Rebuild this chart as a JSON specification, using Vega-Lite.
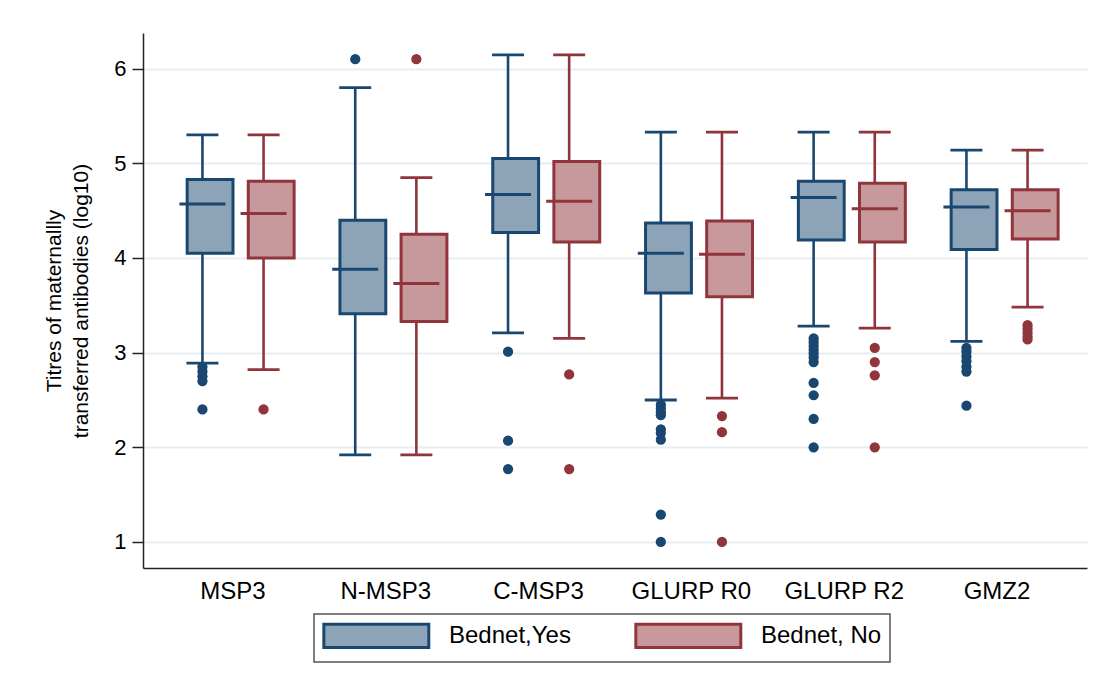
{
  "$schema": "https://vega.github.io/schema/vega-lite/v6.json",
  "width": 944,
  "height": 535,
  "autosize": {"type": "none"},
  "padding": {"left": 143, "top": 33, "right": 23, "bottom": 118},
  "background": "#ffffff",
  "datasets": {
    "stats": [
      {"antigen": "MSP3", "group": "Bednet,Yes", "lower": 2.89, "q1": 4.05, "median": 4.57, "q3": 4.83, "upper": 5.30},
      {"antigen": "MSP3", "group": "Bednet, No", "lower": 2.82, "q1": 4.00, "median": 4.47, "q3": 4.81, "upper": 5.30},
      {"antigen": "N-MSP3", "group": "Bednet,Yes", "lower": 1.92, "q1": 3.41, "median": 3.88, "q3": 4.40, "upper": 5.80},
      {"antigen": "N-MSP3", "group": "Bednet, No", "lower": 1.92, "q1": 3.33, "median": 3.73, "q3": 4.25, "upper": 4.85},
      {"antigen": "C-MSP3", "group": "Bednet,Yes", "lower": 3.21, "q1": 4.27, "median": 4.67, "q3": 5.05, "upper": 6.145},
      {"antigen": "C-MSP3", "group": "Bednet, No", "lower": 3.15, "q1": 4.17, "median": 4.60, "q3": 5.02, "upper": 6.145},
      {"antigen": "GLURP R0", "group": "Bednet,Yes", "lower": 2.50, "q1": 3.63, "median": 4.05, "q3": 4.37, "upper": 5.33},
      {"antigen": "GLURP R0", "group": "Bednet, No", "lower": 2.52, "q1": 3.59, "median": 4.04, "q3": 4.39, "upper": 5.33},
      {"antigen": "GLURP R2", "group": "Bednet,Yes", "lower": 3.28, "q1": 4.19, "median": 4.64, "q3": 4.81, "upper": 5.33},
      {"antigen": "GLURP R2", "group": "Bednet, No", "lower": 3.26, "q1": 4.17, "median": 4.52, "q3": 4.79, "upper": 5.33},
      {"antigen": "GMZ2", "group": "Bednet,Yes", "lower": 3.12, "q1": 4.09, "median": 4.54, "q3": 4.72, "upper": 5.14},
      {"antigen": "GMZ2", "group": "Bednet, No", "lower": 3.48, "q1": 4.20, "median": 4.50, "q3": 4.72, "upper": 5.14}
    ],
    "outliers": [
      {"antigen": "MSP3", "group": "Bednet,Yes", "value": 2.85},
      {"antigen": "MSP3", "group": "Bednet,Yes", "value": 2.80},
      {"antigen": "MSP3", "group": "Bednet,Yes", "value": 2.75},
      {"antigen": "MSP3", "group": "Bednet,Yes", "value": 2.70},
      {"antigen": "MSP3", "group": "Bednet,Yes", "value": 2.40},
      {"antigen": "MSP3", "group": "Bednet, No", "value": 2.40},
      {"antigen": "N-MSP3", "group": "Bednet,Yes", "value": 6.10},
      {"antigen": "N-MSP3", "group": "Bednet, No", "value": 6.10},
      {"antigen": "C-MSP3", "group": "Bednet,Yes", "value": 3.01},
      {"antigen": "C-MSP3", "group": "Bednet,Yes", "value": 2.07},
      {"antigen": "C-MSP3", "group": "Bednet,Yes", "value": 1.77},
      {"antigen": "C-MSP3", "group": "Bednet, No", "value": 2.77},
      {"antigen": "C-MSP3", "group": "Bednet, No", "value": 1.77},
      {"antigen": "GLURP R0", "group": "Bednet,Yes", "value": 2.45},
      {"antigen": "GLURP R0", "group": "Bednet,Yes", "value": 2.41},
      {"antigen": "GLURP R0", "group": "Bednet,Yes", "value": 2.37},
      {"antigen": "GLURP R0", "group": "Bednet,Yes", "value": 2.34},
      {"antigen": "GLURP R0", "group": "Bednet,Yes", "value": 2.19},
      {"antigen": "GLURP R0", "group": "Bednet,Yes", "value": 2.15},
      {"antigen": "GLURP R0", "group": "Bednet,Yes", "value": 2.08},
      {"antigen": "GLURP R0", "group": "Bednet,Yes", "value": 1.29},
      {"antigen": "GLURP R0", "group": "Bednet,Yes", "value": 1.00},
      {"antigen": "GLURP R0", "group": "Bednet, No", "value": 2.33},
      {"antigen": "GLURP R0", "group": "Bednet, No", "value": 2.16},
      {"antigen": "GLURP R0", "group": "Bednet, No", "value": 1.00},
      {"antigen": "GLURP R2", "group": "Bednet,Yes", "value": 3.15},
      {"antigen": "GLURP R2", "group": "Bednet,Yes", "value": 3.11},
      {"antigen": "GLURP R2", "group": "Bednet,Yes", "value": 3.07},
      {"antigen": "GLURP R2", "group": "Bednet,Yes", "value": 3.03},
      {"antigen": "GLURP R2", "group": "Bednet,Yes", "value": 2.99},
      {"antigen": "GLURP R2", "group": "Bednet,Yes", "value": 2.95},
      {"antigen": "GLURP R2", "group": "Bednet,Yes", "value": 2.90},
      {"antigen": "GLURP R2", "group": "Bednet,Yes", "value": 2.68},
      {"antigen": "GLURP R2", "group": "Bednet,Yes", "value": 2.55},
      {"antigen": "GLURP R2", "group": "Bednet,Yes", "value": 2.30},
      {"antigen": "GLURP R2", "group": "Bednet,Yes", "value": 2.00},
      {"antigen": "GLURP R2", "group": "Bednet, No", "value": 3.05},
      {"antigen": "GLURP R2", "group": "Bednet, No", "value": 2.90},
      {"antigen": "GLURP R2", "group": "Bednet, No", "value": 2.76},
      {"antigen": "GLURP R2", "group": "Bednet, No", "value": 2.00},
      {"antigen": "GMZ2", "group": "Bednet,Yes", "value": 3.05},
      {"antigen": "GMZ2", "group": "Bednet,Yes", "value": 3.01},
      {"antigen": "GMZ2", "group": "Bednet,Yes", "value": 2.96},
      {"antigen": "GMZ2", "group": "Bednet,Yes", "value": 2.91},
      {"antigen": "GMZ2", "group": "Bednet,Yes", "value": 2.85},
      {"antigen": "GMZ2", "group": "Bednet,Yes", "value": 2.80},
      {"antigen": "GMZ2", "group": "Bednet,Yes", "value": 2.44},
      {"antigen": "GMZ2", "group": "Bednet, No", "value": 3.29},
      {"antigen": "GMZ2", "group": "Bednet, No", "value": 3.25},
      {"antigen": "GMZ2", "group": "Bednet, No", "value": 3.21},
      {"antigen": "GMZ2", "group": "Bednet, No", "value": 3.17},
      {"antigen": "GMZ2", "group": "Bednet, No", "value": 3.14}
    ]
  },
  "encoding": {
    "x": {
      "field": "antigen",
      "type": "nominal",
      "sort": ["MSP3", "N-MSP3", "C-MSP3", "GLURP R0", "GLURP R2", "GMZ2"],
      "scale": {"paddingInner": 0.2, "paddingOuter": 0.189},
      "axis": {
        "title": null,
        "labelAngle": 0,
        "labelFontSize": 24,
        "labelPadding": 11,
        "ticks": false,
        "grid": false,
        "domainColor": "#222222",
        "domainWidth": 1.5
      }
    },
    "xOffset": {
      "field": "group",
      "type": "nominal",
      "sort": ["Bednet,Yes", "Bednet, No"],
      "scale": {"paddingInner": 0, "paddingOuter": 0}
    }
  },
  "layer": [
    {
      "data": {"name": "stats"},
      "mark": {"type": "rule", "strokeWidth": 2.6},
      "encoding": {
        "y": {
          "field": "lower",
          "type": "quantitative",
          "scale": {"domain": [0.725, 6.377], "nice": false, "zero": false},
          "axis": {
            "values": [1, 2, 3, 4, 5, 6],
            "format": "d",
            "title": ["Titres of maternallly", "transferred antibodies (log10)"],
            "titleFontSize": 21,
            "titleFontWeight": "normal",
            "titleLineHeight": 27,
            "titlePadding": 22,
            "labelFontSize": 22,
            "labelPadding": 6,
            "tickSize": 11,
            "tickWidth": 1.5,
            "tickColor": "#222222",
            "domainColor": "#222222",
            "domainWidth": 1.5,
            "grid": true,
            "gridColor": "#e6eef1",
            "gridWidth": 2
          }
        },
        "y2": {"field": "upper"},
        "stroke": {"condition": {"test": "datum.group === 'Bednet,Yes'", "value": "#1a476f"}, "value": "#90353b"}
      }
    },
    {
      "data": {"name": "stats"},
      "mark": {"type": "bar", "width": {"band": 0.75}, "strokeWidth": 3, "opacity": 1},
      "encoding": {
        "y": {"field": "q1", "type": "quantitative"},
        "y2": {"field": "q3"},
        "fill": {
          "field": "group",
          "type": "nominal",
          "scale": {"domain": ["Bednet,Yes", "Bednet, No"], "range": ["#8da4b8", "#c8999c"]},
          "legend": {"title": null}
        },
        "stroke": {
          "field": "group",
          "type": "nominal",
          "scale": {"domain": ["Bednet,Yes", "Bednet, No"], "range": ["#1a476f", "#90353b"]},
          "legend": {"title": null}
        }
      }
    },
    {
      "data": {"name": "stats"},
      "mark": {"type": "tick", "size": 46, "thickness": 3, "opacity": 1},
      "encoding": {
        "y": {"field": "median", "type": "quantitative"},
        "fill": {"condition": {"test": "datum.group === 'Bednet,Yes'", "value": "#1a476f"}, "value": "#90353b"}
      }
    },
    {
      "data": {"name": "stats"},
      "mark": {"type": "tick", "size": 32, "thickness": 2.8, "opacity": 1},
      "encoding": {
        "y": {"field": "lower", "type": "quantitative"},
        "fill": {"condition": {"test": "datum.group === 'Bednet,Yes'", "value": "#1a476f"}, "value": "#90353b"}
      }
    },
    {
      "data": {"name": "stats"},
      "mark": {"type": "tick", "size": 32, "thickness": 2.8, "opacity": 1},
      "encoding": {
        "y": {"field": "upper", "type": "quantitative"},
        "fill": {"condition": {"test": "datum.group === 'Bednet,Yes'", "value": "#1a476f"}, "value": "#90353b"}
      }
    },
    {
      "data": {"name": "outliers"},
      "mark": {"type": "point", "shape": "circle", "filled": true, "size": 105, "opacity": 1, "strokeWidth": 0},
      "encoding": {
        "y": {"field": "value", "type": "quantitative"},
        "fill": {"condition": {"test": "datum.group === 'Bednet,Yes'", "value": "#1a476f"}, "value": "#90353b"}
      }
    }
  ],
  "config": {
    "font": "Liberation Sans",
    "view": {"stroke": null},
    "axis": {
      "labelFont": "Liberation Sans",
      "titleFont": "Liberation Sans",
      "labelColor": "#000000",
      "titleColor": "#000000"
    },
    "legend": {
      "orient": "none",
      "legendX": 171,
      "legendY": 581,
      "direction": "horizontal",
      "columns": 2,
      "columnPadding": 58,
      "padding": 8,
      "strokeColor": "#555555",
      "strokeWidth": 1.5,
      "fillColor": "#ffffff",
      "symbolType": "M-1,-1H8V1H-1Z",
      "symbolSize": 544,
      "symbolStrokeWidth": 3,
      "symbolOpacity": 1,
      "labelOffset": 100,
      "labelFont": "Liberation Sans",
      "labelFontSize": 24,
      "labelColor": "#000000",
      "labelLimit": 300
    }
  }
}
